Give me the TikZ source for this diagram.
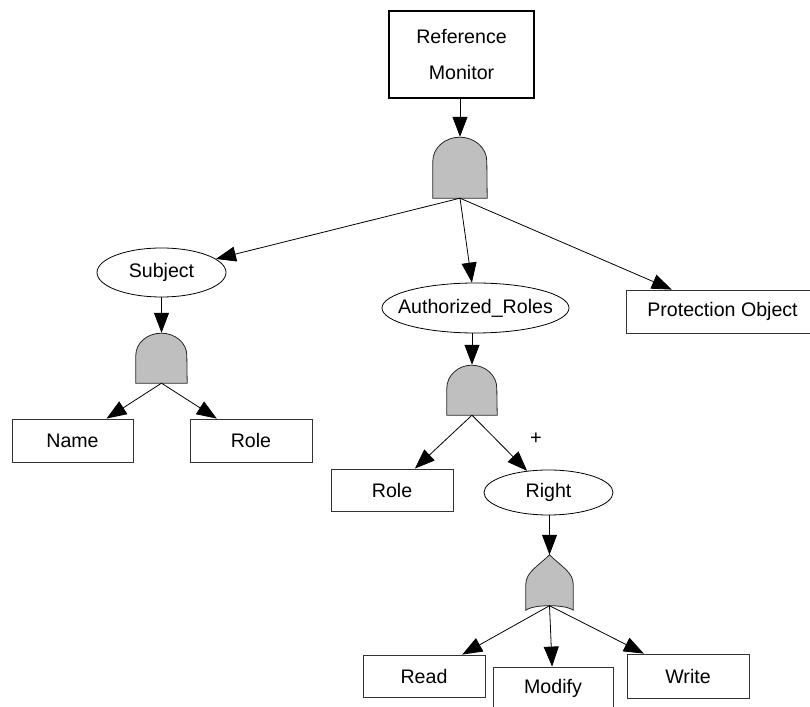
\documentclass[tikz,border=0pt]{standalone}
\usepackage{fontspec}
\setmainfont{Liberation Sans}
\usetikzlibrary{arrows.meta,shapes.geometric}
\newcommand{\zw}[1]{\makebox[0pt]{#1}}
\begin{document}
\begin{tikzpicture}[x=1pt,y=1pt,
  every node/.style={font=\fontsize{19.6}{36}\selectfont, inner sep=0pt},
  leaf/.style={draw=black!80, line width=0.8pt, rectangle},
  topbox/.style={draw=black, line width=2.2pt, rectangle, align=center},
  event/.style={draw=black, line width=0.8pt, ellipse},
  gatebox/.style={rectangle, draw=none},
  gatefill/.style={fill=black!25, draw=black!85, line width=0.8pt},
  conn/.style={line width=0.8pt, -{Triangle[length=20pt,width=15pt]}}]
\useasboundingbox (0,0) rectangle (810,706);
\clip (0,0) rectangle (810,706);

% nodes
\node[topbox, minimum width=145, minimum height=87] (rm) at (461.5,651.5) {Reference\\Monitor};
\node[gatebox, minimum width=54, minimum height=61] (g1) at (460,538.5) {};
\node[event, minimum width=129, minimum height=49] (subj) at (161.5,433.5) {\zw{Subject}};
\node[gatebox, minimum width=51, minimum height=50] (g2) at (161.5,348) {};
\node[leaf, minimum width=121, minimum height=43] (name) at (72.5,265.5) {Name};
\node[leaf, minimum width=122, minimum height=43] (role1) at (251,265.5) {Role};
\node[event, minimum width=187, minimum height=50] (auth) at (475.5,398) {\zw{Authorized\_Roles}};
\node[leaf, minimum width=193, minimum height=43] (prot) at (722.5,394.5) {Protection Object};
\node[gatebox, minimum width=50, minimum height=50] (g3) at (472,316) {};
\node[leaf, minimum width=122, minimum height=42] (role2) at (392,216) {Role};
\node[event, minimum width=129, minimum height=45] (right) at (548.5,213.5) {\zw{Right}};
\node (plus) at (536,267) {\fontsize{20}{20}\selectfont +};
\node[gatebox, minimum width=47, minimum height=55] (g4) at (549.5,123.5) {};
\node[leaf, minimum width=122, minimum height=42] (read) at (424,30) {Read};
\node[leaf, minimum width=120, minimum height=42] (modify) at (553,18) {Modify};
\node[leaf, minimum width=122, minimum height=44] (write) at (688,30) {Write};

% AND gates
\draw[gatefill] (g1.south west) -- ++(0,37) arc[start angle=180,end angle=0,x radius=27,y radius=24] -- (g1.south east) -- cycle;
\draw[gatefill] (g2.south west) -- ++(0,28) arc[start angle=180,end angle=0,x radius=25.5,y radius=22] -- (g2.south east) -- cycle;
\draw[gatefill] (g3.south west) -- ++(0,27) arc[start angle=180,end angle=0,x radius=25,y radius=23] -- (g3.south east) -- cycle;
% OR gate: pointed top over straight sides, concave base
\draw[gatefill] (g4.south west) -- ++(0,26)
  .. controls +(0,12) and +(-11,-11) .. (g4.north)
  .. controls +(11,-11) and +(0,12) .. ([yshift=26pt]g4.south east)
  -- (g4.south east) .. controls +(-8,6) and +(8,6) .. (g4.south west) -- cycle;

% connectors
\draw[conn] (rm.south -| g1.north) -- (g1.north);
\draw[conn] (g1.south) -- (subj);
\draw[conn] (g1.south) -- (auth);
\draw[conn] (g1.south) -- (prot);
\draw[conn] (subj.south) -- (g2.north);
\draw[conn] (g2.south) -- (name);
\draw[conn] (g2.south) -- (role1);
\draw[conn] (auth.south -| g3.north) -- (g3.north);
\draw[conn] (g3.south) -- (role2);
\draw[conn] (g3.south) -- (right);
\draw[conn] (right.south -| g4.north) -- (g4.north);
\draw[conn] ([yshift=4.5pt]g4.south) -- (read);
\draw[conn] ([yshift=4.5pt]g4.south) -- (modify);
\draw[conn] ([yshift=4.5pt]g4.south) -- (write);
\end{tikzpicture}
\end{document}
